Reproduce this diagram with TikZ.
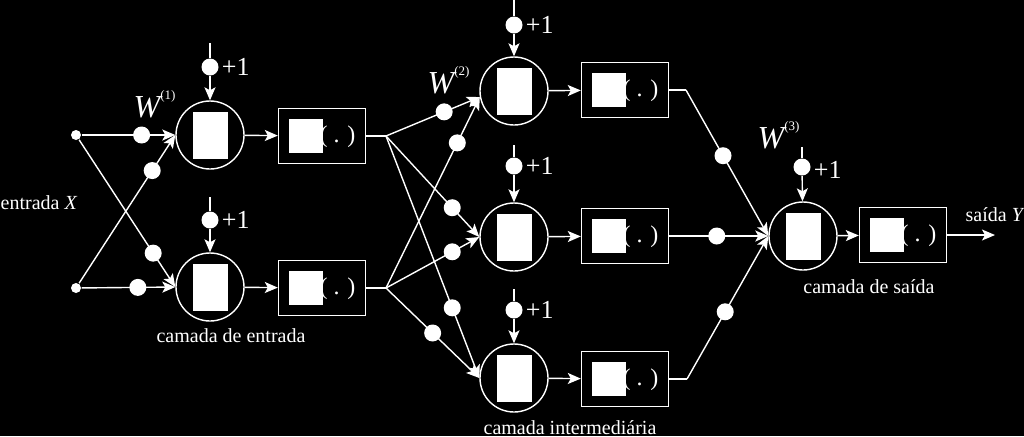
\documentclass[tikz,border=0pt]{standalone}
\usepackage{fontspec}
\setmainfont{Liberation Serif}
\usetikzlibrary{positioning,arrows.meta}

\newcommand{\sumrect}{\rule{17.5pt}{23.5pt}}
\newcommand{\actlabel}{\rule[-5.4pt]{17pt}{17pt}\hspace{-1.5pt}( . )}
\newcommand{\wlayer}[1]{W\raisebox{9pt}{\upshape\fontsize{6.5}{7}\selectfont(#1)}}

\begin{document}
\begin{tikzpicture}[x=0.5pt,y=-0.5pt,white,line width=0.7pt,
    >={Stealth[length=6.5pt,width=5.5pt,inset=1.5pt]},
    neuron/.style={shape=circle,draw=white,minimum size=34pt,inner sep=0pt},
    actbox/.style={shape=rectangle,draw=white,minimum width=43.5pt,minimum height=27.5pt,inner sep=0pt,
        font=\fontsize{12}{14}\selectfont},
    wdot/.style={shape=circle,fill=white,minimum size=8.5pt,inner sep=0pt},
    idot/.style={shape=circle,fill=white,minimum size=5pt,inner sep=0pt},
    plusone/.style={font=\fontsize{13}{15}\selectfont,inner sep=1pt},
    txt/.style={font=\fontsize{10}{12}\selectfont,inner sep=0pt},
    wlab/.style={font=\fontsize{16}{18}\selectfont\itshape,inner sep=0pt,anchor=base west}]
    \useasboundingbox (0,0) rectangle (1024,436);
    \fill[black] (0,0) rectangle (1024,436);

    % camada de entrada
    \node[idot] (x1) at (76,135) {};
    \node[idot] (x2) at (76,288) {};
    \node[neuron] (n1) at (210,135) {\sumrect};
    \node[neuron] (n2) at (210,287) {\sumrect};
    \node[actbox] (f1) at (322,136) {\actlabel};
    \node[actbox] (f2) at (322,288) {\actlabel};
    \coordinate (b1top) at (210,43);
    \coordinate (b2top) at (210,197);
    \node[wdot] (b1) at (210,67) {};
    \node[wdot] (b2) at (210,220) {};
    \node[plusone,right=0pt of b1] (p1) {+1};
    \node[plusone,right=0pt of b2] (p2) {+1};

    \path[->] (x1) edge node[wdot,pos=.64] (w11) {} (n1.west);
    \path[->] (x1) edge node[wdot,pos=.77] (w12) {} (n2.west);
    \path[->] (x2) edge node[wdot,pos=.76] (w21) {} (n1.west);
    \path[->] (x2) edge node[wdot,pos=.6] (w22) {} (n2.west);
    \draw (b1top) -- (b1);
    \draw (b2top) -- (b2);
    \path[->] (b1) edge (n1) (b2) edge (n2);
    \path[->] (n1) edge (f1) (n2) edge (f2);

    % camada intermediaria
    \coordinate (s1) at (386,136);
    \coordinate (s2) at (386,288);
    \node[neuron] (nA) at (514,91) {\sumrect};
    \node[neuron] (nB) at (514,237) {\sumrect};
    \node[neuron] (nC) at (514,378) {\sumrect};
    \node[actbox] (fA) at (625,90) {\actlabel};
    \node[actbox] (fB) at (625,236) {\actlabel};
    \node[actbox] (fC) at (625,379) {\actlabel};
    \coordinate (bAtop) at (514,0);
    \coordinate (bBtop) at (514,145);
    \coordinate (bCtop) at (514,289);
    \node[wdot] (bA) at (514,25) {};
    \node[wdot] (bB) at (514,166) {};
    \node[wdot] (bC) at (514,310) {};
    \node[plusone,right=0pt of bA] (pA) {+1};
    \node[plusone,right=0pt of bB] (pB) {+1};
    \node[plusone,right=0pt of bC] (pC) {+1};

    \draw (f1) -- (s1);
    \draw (f2) -- (s2);
    \path[->] (s1) edge node[wdot,pos=.62] (wA1) {} (nA.190);
    \path[->] (s2) edge node[wdot,pos=.76] (wA2) {} (nA.190);
    \path[->] (s1) edge node[wdot,pos=.71] (wB1) {} (nB.west);
    \path[->] (s2) edge node[wdot,pos=.71] (wB2) {} (nB.west);
    \path[->] (s1) edge node[wdot,pos=.71] (wC1) {} (nC.west);
    \path[->] (s2) edge node[wdot,pos=.5] (wC2) {} (nC.west);
    \draw (bAtop) -- (bA);
    \draw (bBtop) -- (bB);
    \draw (bCtop) -- (bC);
    \path[->] (bA) edge (nA) (bB) edge (nB) (bC) edge (nC);
    \path[->] (nA) edge (fA) (nB) edge (fB) (nC) edge (fC);

    % camada de saida
    \coordinate (k1) at (686,90);
    \coordinate (k3) at (687,379);
    \node[neuron] (nO) at (803,236) {\sumrect};
    \node[actbox] (fO) at (903,235) {\actlabel};
    \coordinate (bOtop) at (802,147);
    \node[wdot] (bO) at (802,167) {};
    \node[plusone,right=0pt of bO,yshift=-1.5pt] (pO) {+1};
    \coordinate (yout) at (995,235);

    \draw (fA) -- (k1);
    \draw (fC) -- (k3);
    \path[->] (k1) edge node[wdot,pos=.45] (wO1) {} (nO.west);
    \path[->] (fB) edge node[wdot,pos=.48] (wO2) {} (nO.west);
    \path[->] (k3) edge node[wdot,pos=.47] (wO3) {} (nO.west);
    \draw (bOtop) -- (bO);
    \path[->] (bO) edge (nO);
    \path[->] (nO) edge (fO) (fO) edge (yout);

    % rotulos
    \node[wlab] (W1) at (133,117) {\wlayer{1}};
    \node[wlab] (W2) at (427,93) {\wlayer{2}};
    \node[wlab] (W3) at (757,148) {\wlayer{3}};
    \node[txt,anchor=base west] (inlab) at (0,209) {entrada \textit{X}};
    \node[txt,anchor=base west] (outlab) at (965,221) {saída \textit{Y}};
    \node[txt,anchor=base] (lay1) at (231,342) {camada de entrada};
    \node[txt,anchor=base] (lay2) at (570,434) {camada intermediária};
    \node[txt,anchor=base] (lay3) at (869,293) {camada de saída};

\end{tikzpicture}
\end{document}
